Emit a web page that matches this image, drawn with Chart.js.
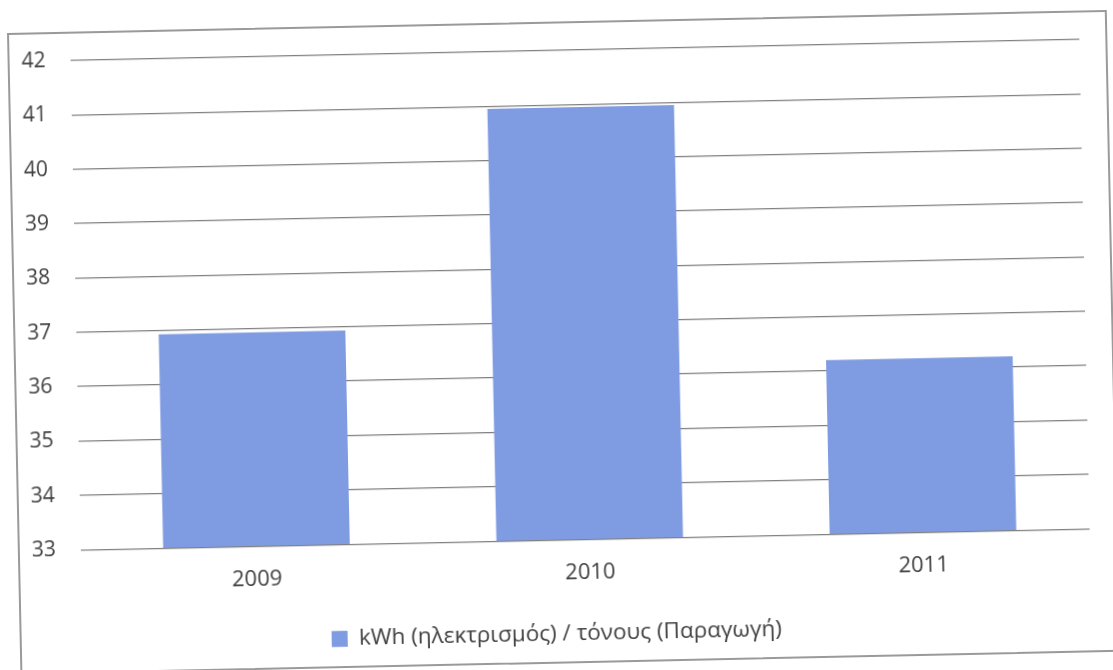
<!DOCTYPE html>
<html>
<head>
<meta charset="utf-8">
<script src="https://cdn.jsdelivr.net/npm/chart.js@4.4.0/dist/chart.umd.min.js"></script>
<style>
  body { margin: 0; background: #fff; overflow: hidden; }
  #frame {
    position: absolute; left: 7px; top: 33px;
    width: 1100px; height: 642px;
    border: 2px solid #9a9a9a; box-sizing: border-box;
    transform: rotate(-1.2deg); transform-origin: 0 0;
    background: #fff;
  }
</style>
</head>
<body>
<div id="frame"><canvas id="bar-chart" width="1096" height="638"></canvas></div>
<script>
// data
var years = ["2009", "2010", "2011"];
var kwhPerTon = [36.93, 40.95, 36.2];
var seriesLabel = "kWh (ηλεκτρισμός) / τόνους (Παραγωγή)";
var yMin = 33, yMax = 42;

new Chart(document.getElementById("bar-chart"), {
    type: 'bar',
    data: {
        labels: years,
        datasets: [{
            data: kwhPerTon,
            label: seriesLabel,
            backgroundColor: "#7f9ce2",
            barPercentage: 0.56,
            categoryPercentage: 1
        }]
    },
    options: {
        responsive: false,
        animation: false,
        layout: { padding: { left: 0, right: 26, top: 27, bottom: 6 } },
        scales: {
            x: {
                grid: { display: false },
                border: { display: false },
                ticks: { color: "#404040", font: { family: "Open Sans", size: 22 }, padding: 12.5 },
                // keep label overhang from shrinking the plot
                afterFit: function (s) { s.paddingLeft = 0; s.paddingRight = 0; }
            },
            y: {
                min: yMin, max: yMax,
                ticks: { stepSize: 1, color: "#404040", font: { family: "Open Sans", size: 21 }, padding: 25 },
                grid: { color: "#808080", lineWidth: 1.2, drawTicks: true, tickLength: 9 },
                border: { display: false },
                // tick padding is counted on both sides of the labels; drop most of the outer one
                afterFit: function (s) { s.paddingTop = 0; s.paddingBottom = 0; s.width -= 13; }
            }
        },
        plugins: {
            legend: {
                position: 'bottom',
                labels: { boxWidth: 16, boxHeight: 16, color: "#404040", font: { family: "Open Sans", size: 22.5 }, padding: 24 }
            },
            tooltip: { enabled: false }
        }
    }
});
</script>
</body>
</html>
